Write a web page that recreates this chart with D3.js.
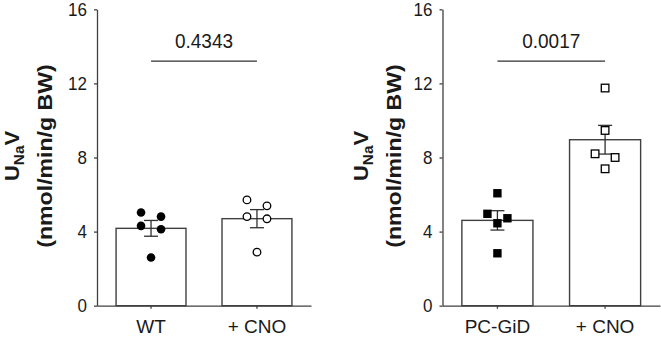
<!DOCTYPE html>
<html>
<head>
    <meta charset="utf-8">
    <title>UNaV</title>
    <script type="text/javascript" src="https://cdn.jsdelivr.net/npm/d3@7"></script>
    <style type="text/css">
        body{
            margin: 0;
            background-color: #fff;
        }
        svg{
            display: block;
            font-family: 'Liberation Sans', Arial, sans-serif;
        }
        .axis path, .axis line{
            stroke: #404040;
            stroke-width: 1.3px;
        }
        .axis text{
            fill: #1a1a1a;
        }
        .bar{
            fill: #fff;
            stroke: #404040;
            stroke-width: 1.4px;
        }
        .err, .sig{
            stroke: #303030;
            stroke-width: 1.3px;
            fill: none;
        }
        .yLabel{
            font-weight: bold;
            fill: #1a1a1a;
        }
    </style>
</head>
<body>

    <div id="chart"></div>

    <script type="text/javascript">
        // values
        var yTicks = [0, 4, 8, 12, 16];
        var wtGroups = ['WT', '+ CNO'];
        var pcGroups = ['PC-GiD', '+ CNO'];
        var wtPoints = [5.03, 4.81, 4.31, 4.13, 2.60];
        var wtCnoPoints = [5.71, 5.39, 4.81, 4.69, 2.89];
        var pcPoints = [6.07, 4.72, 4.96, 4.45, 2.83];
        var pcCnoPoints = [11.75, 9.46, 8.20, 8.00, 7.39];
        var pLabels = ['0.4343', '0.0017'];
        var sigLevel = 13.2;

        var width = 661, height = 337;
        var stretch = 1.1; // text in the figure is a bit taller than wide

        var svg = d3.select('#chart')
            .append('svg')
            .attr('width', width)
            .attr('height', height);

        var yScale = d3.scaleLinear()
            .domain([0, 16])
            .range([305.7, 9.3]);

        var panels = [
            {groups: wtGroups, points: [wtPoints, wtCnoPoints], shape: 'circle', p: pLabels[0], x0: 97, x1: 311, labelX: 52},
            {groups: pcGroups, points: [pcPoints, pcCnoPoints], shape: 'square', p: pLabels[1], x0: 442.5, x1: 660, labelX: 401}
        ];

        // spread points that sit at about the same height into a row
        function spread(values, step){
            var sorted = values.map(function(v, i){ return {v: v, i: i}; })
                .sort(function(a, b){ return b.v - a.v; });
            var rows = [], out = [];
            sorted.forEach(function(d){
                var last = rows[rows.length - 1];
                if(last && last[0].v - d.v < 0.46){
                    last.push(d);
                } else {
                    rows.push([d]);
                }
            });
            rows.forEach(function(row){
                row.forEach(function(d, k){
                    out.push({v: d.v, dx: (k - (row.length - 1) / 2) * step});
                });
            });
            return out;
        }

        panels.forEach(function(pn){
            var xScale = d3.scaleBand()
                .domain(pn.groups)
                .range([pn.x0, pn.x1])
                .paddingInner(0.34)
                .paddingOuter(0.18);

            var g = svg.append('g');

            var stats = pn.points.map(function(vals, i){
                var m = d3.mean(vals);
                var sem = d3.deviation(vals) / Math.sqrt(vals.length);
                return {group: pn.groups[i], mean: m, sem: sem, vals: vals, open: i == 1};
            });

            g.selectAll('.bar')
                .data(stats)
                .enter()
                .append('rect')
                .attr('class', 'bar')
                .attr('x', function(d){ return xScale(d.group); })
                .attr('width', xScale.bandwidth())
                .attr('y', function(d){ return yScale(d.mean); })
                .attr('height', function(d){ return yScale(0) - yScale(d.mean); });

            // error bars
            stats.forEach(function(d){
                var cx = xScale(d.group) + xScale.bandwidth() / 2;
                var eg = g.append('g').attr('class', 'err');
                eg.append('line')
                    .attr('x1', cx).attr('x2', cx)
                    .attr('y1', yScale(d.mean - d.sem))
                    .attr('y2', yScale(d.mean + d.sem));
                [d.mean - d.sem, d.mean + d.sem].forEach(function(v){
                    eg.append('line')
                        .attr('x1', cx - 7).attr('x2', cx + 7)
                        .attr('y1', yScale(v)).attr('y2', yScale(v));
                });
            });

            // points
            stats.forEach(function(d){
                var cx = xScale(d.group) + xScale.bandwidth() / 2;
                var pts = spread(d.vals, 20);
                var fill = d.open ? '#fff' : '#000';
                if(pn.shape == 'circle'){
                    g.selectAll(null)
                        .data(pts)
                        .enter()
                        .append('circle')
                        .attr('cx', function(p){ return cx + p.dx; })
                        .attr('cy', function(p){ return yScale(p.v); })
                        .attr('r', d.open ? 3.8 : 4.3)
                        .attr('fill', fill)
                        .attr('stroke', '#000')
                        .attr('stroke-width', d.open ? 1.3 : 0);
                } else {
                    var s = d.open ? 7.6 : 8.4;
                    g.selectAll(null)
                        .data(pts)
                        .enter()
                        .append('rect')
                        .attr('x', function(p){ return cx + p.dx - s / 2; })
                        .attr('y', function(p){ return yScale(p.v) - s / 2; })
                        .attr('width', s)
                        .attr('height', s)
                        .attr('fill', fill)
                        .attr('stroke', '#000')
                        .attr('stroke-width', d.open ? 1.3 : 0);
                }
            });

            var yAxis = d3.axisLeft(yScale)
                .tickValues(yTicks)
                .tickSize(3)
                .tickPadding(7)
                .tickSizeOuter(0);
            var xAxis = d3.axisBottom(xScale)
                .tickSize(3)
                .tickPadding(11)
                .tickSizeOuter(0);

            g.append('g')
                .attr('class', 'axis')
                .attr('transform', 'translate(' + pn.x0 + ',0)')
                .call(yAxis)
                .selectAll('text')
                .style('font-size', '17px')
                .attr('transform', 'scale(1,' + stretch + ')');

            g.append('g')
                .attr('class', 'axis')
                .attr('transform', 'translate(0,' + yScale(0) + ')')
                .call(xAxis)
                .selectAll('text')
                .style('font-size', '19px');

            // significance bar
            var xa = xScale(pn.groups[0]) + xScale.bandwidth() / 2;
            var xb = xScale(pn.groups[1]) + xScale.bandwidth() / 2;
            g.append('line')
                .attr('class', 'sig')
                .attr('x1', xa).attr('x2', xb)
                .attr('y1', yScale(sigLevel)).attr('y2', yScale(sigLevel));
            g.append('text')
                .attr('transform', 'translate(' + ((xa + xb) / 2) + ',' + (yScale(sigLevel) - 13.5) + ') scale(1,' + stretch + ')')
                .attr('text-anchor', 'middle')
                .style('font-size', '19px')
                .attr('fill', '#1a1a1a')
                .text(pn.p);

            // y label
            var lab = g.append('g')
                .attr('transform', 'translate(' + pn.labelX + ',156) rotate(-90) scale(' + stretch + ',1)');
            var l1 = lab.append('text')
                .attr('class', 'yLabel')
                .attr('y', -33.5)
                .attr('text-anchor', 'middle')
                .style('font-size', '20px');
            l1.append('tspan').text('U');
            l1.append('tspan').attr('dy', 5).style('font-size', '14px').text('Na');
            l1.append('tspan').attr('dy', -5).text('V');
            lab.append('text')
                .attr('class', 'yLabel')
                .attr('text-anchor', 'middle')
                .style('font-size', '21px')
                .text('(nmol/min/g BW)');
        });
    </script>

</body>
</html>
